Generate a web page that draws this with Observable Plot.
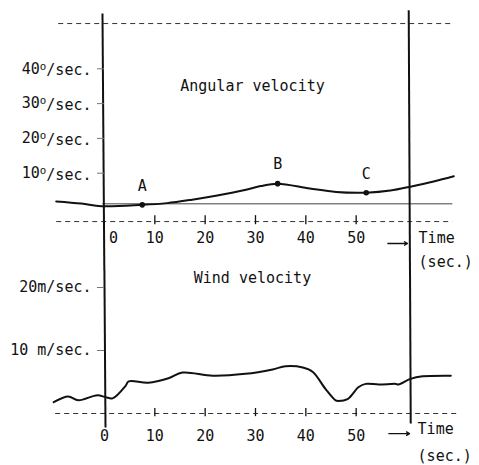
<!DOCTYPE html>
<html>
<head>
<meta charset="utf-8">
<script src="https://cdn.jsdelivr.net/npm/d3@7"></script>
<script src="https://cdn.jsdelivr.net/npm/@observablehq/plot@0.6"></script>
<style>
  html, body { margin: 0; padding: 0; background: #fff; }
  #chart svg { display: block; }
</style>
</head>
<body>
<div id="chart"></div>
<script>
// ---- data ----
const timeTicks = [0, 10, 20, 30, 40, 50];
const timeTickMarks = [10, 20, 30, 40, 50];

const angTicks = [10, 20, 30, 40];
const angTickLabels = ["10°/sec.", "20°/sec.", "30°/sec.", "40°/sec."];

const windTicks = [10, 20];
const windTickLabels = ["10 m/sec.", "20m/sec."];

// angular velocity (deg/sec) vs time (sec)
const angTime  = [-9.6, -4.6, -0.6, 7.5, 12.4, 17.4, 22.4, 27.4, 31, 34.4, 40.8, 46, 52, 56.8, 61, 65.4, 69.4];
const angValue = [1.9, 1.3, 0.5, 0.9, 1.4, 2.4, 3.6, 5.0, 6.3, 7.0, 5.6, 4.6, 4.4, 5.0, 6.2, 7.6, 9.1];

const pointNames = ["A", "B", "C"];
const pointTime  = [7.5, 34.4, 52];
const pointValue = [0.9, 7.0, 4.4];

// wind velocity (m/sec) vs time (sec)
const windTime  = [-10.1, -7.2, -5.2, -1.4, 0.2, 1.6, 4.2, 4.8, 8.7, 12.7, 15.5, 21.5, 28.0, 33.4, 36.0, 39.4, 41.4, 43.9, 45.9, 46.5, 48.3, 50.5, 51.9, 54.5, 57.9, 58.4, 60.8, 63.2, 68.8];
const windValue = [1.8, 2.7, 2.1, 2.9, 2.6, 2.4, 4.4, 5.1, 4.9, 5.6, 6.5, 6.0, 6.3, 7.0, 7.5, 7.3, 6.6, 3.9, 2.1, 2.0, 2.3, 4.2, 4.7, 4.6, 4.7, 4.6, 5.5, 5.9, 6.0];

(function () {
  // ---- tables ----
  const ang = angTime.map((t, i) => ({t, v: angValue[i]}));
  const pts = pointNames.map((n, i) => ({n, t: pointTime[i], v: pointValue[i]}));
  const wind = windTime.map((t, i) => ({t, v: windValue[i]}));
  const angAxis = angTicks.map((v, i) => ({v, label: angTickLabels[i]}));
  const windAxis = windTicks.map((v, i) => ({v, label: windTickLabels[i]}));

  const FONT = "DejaVu Sans Mono";
  const FS = 15;
  const INK = "#111";
  const DASH = "5,4";
  const xScale = {domain: [0, 60], range: [104, 406]};
  const lk = {x1: "x1", y1: "y1", x2: "x2", y2: "y2", stroke: INK, strokeWidth: 2};

  // ---- top panel: angular velocity ----
  const topPanel = Plot.plot({
    width: 479, height: 270,
    marginTop: 0, marginBottom: 0, marginLeft: 0, marginRight: 0,
    style: {fontFamily: FONT, fontSize: FS + "px", color: INK, background: "#fff"},
    x: {...xScale, axis: null},
    y: {domain: [0, 40], range: [207.5, 68.3], axis: null},
    marks: [
      Plot.ruleY([53.0], {x1: -9.1, x2: 69.2, stroke: "#333", strokeWidth: 1, strokeDasharray: DASH}),
      Plot.ruleY([-3.9], {x1: -9.5, x2: 69.2, stroke: "#333", strokeWidth: 1, strokeDasharray: DASH}),
      Plot.ruleX(timeTickMarks, {y1: -2.2, y2: -4.8, stroke: INK, strokeWidth: 1.3}),
      Plot.ruleY([1.2], {x1: -0.3, x2: 69.2, stroke: "#444", strokeWidth: 1}),
      Plot.link([{x1: -0.4, y1: 55.9, x2: -0.03, y2: -19}], lk),
      Plot.link([{x1: 60.44, y1: 56.8, x2: 60.69, y2: -19}], lk),
      Plot.ruleY(angAxis, {y: "v", x1: -1.4, x2: 0, stroke: "#777", strokeWidth: 1}),
      Plot.text(angAxis, {x: 0, y: "v", text: "label", textAnchor: "end", dx: -13, fill: INK, fontSize: FS}),
      Plot.line(ang, {x: "t", y: "v", curve: "catmull-rom", stroke: INK, strokeWidth: 2}),
      Plot.dot(pts, {x: "t", y: "v", r: 2.8, fill: INK, stroke: "none"}),
      Plot.text(pts, {x: "t", y: "v", text: "n", dy: -19, fill: INK, fontSize: FS}),
      Plot.text(timeTicks.filter(d => d !== 0), {x: d => d, y: -8.8, text: d => String(d), fill: INK, fontSize: FS}),
      Plot.text(timeTicks.filter(d => d === 0), {x: d => d, y: -8.8, text: d => String(d), dx: 9, fill: INK, fontSize: FS}),
      Plot.arrow([{x1: 56.3, x2: 60.2, y: -10.2}], {x1: "x1", x2: "x2", y1: "y", y2: "y", stroke: INK, strokeWidth: 1.3, headLength: 4}),
      Plot.text(["Time"], {x: 62.4, y: -8.8, text: d => d, textAnchor: "start", fill: INK, fontSize: FS}),
      Plot.text(["(sec.)"], {x: 62.4, y: -15.7, text: d => d, textAnchor: "start", fill: INK, fontSize: FS}),
      Plot.text(["Angular velocity"], {x: 29.4, y: 34.9, text: d => d, fill: INK, fontSize: FS})
    ]
  });

  // ---- bottom panel: wind velocity ----
  const bottomPanel = Plot.plot({
    width: 479, height: 195,
    marginTop: 0, marginBottom: 0, marginLeft: 0, marginRight: 0,
    style: {fontFamily: FONT, fontSize: FS + "px", color: INK, background: "#fff"},
    x: {...xScale, axis: null},
    y: {domain: [0, 20], range: [143, 17], axis: null},
    marks: [
      Plot.ruleY([0], {x1: -9.7, x2: 70.2, stroke: "#333", strokeWidth: 1, strokeDasharray: DASH}),
      Plot.ruleX(timeTickMarks, {y1: 0.8, y2: -0.5, stroke: INK, strokeWidth: 1.3}),
      Plot.link([{x1: -0.03, y1: 24, x2: 0.2, y2: -2.22}], lk),
      Plot.link([{x1: 60.69, y1: 24, x2: 60.84, y2: -1.6}], lk),
      Plot.ruleY(windAxis, {y: "v", x1: -1.4, x2: 0, stroke: "#777", strokeWidth: 1}),
      Plot.text(windAxis, {x: 0, y: "v", text: "label", textAnchor: "end", dx: -13, fill: INK, fontSize: FS}),
      Plot.line(wind, {x: "t", y: "v", curve: "catmull-rom", stroke: INK, strokeWidth: 2}),
      Plot.text(timeTicks, {x: d => d, y: -3.65, text: d => String(d), fill: INK, fontSize: FS}),
      Plot.arrow([{x1: 56.5, x2: 60.6, y: -3.2}], {x1: "x1", x2: "x2", y1: "y", y2: "y", stroke: INK, strokeWidth: 1.3, headLength: 4}),
      Plot.text(["Time"], {x: 62.2, y: -2.54, text: d => d, textAnchor: "start", fill: INK, fontSize: FS}),
      Plot.text(["(sec.)"], {x: 62.2, y: -6.83, text: d => d, textAnchor: "start", fill: INK, fontSize: FS}),
      Plot.text(["Wind velocity"], {x: 29.4, y: 21.4, text: d => d, fill: INK, fontSize: FS})
    ]
  });

  // typeset the degree sign as a raised small "o", like the original typewriter labels
  d3.select(topPanel).selectAll("text").each(function () {
    const s = this.textContent;
    const i = s.indexOf("°");
    if (i < 0) return;
    const el = d3.select(this);
    el.text(null);
    el.append("tspan").text(s.slice(0, i));
    el.append("tspan").attr("dy", "-0.38em").attr("font-size", "0.72em").text("°".replace("°", "o"));
    el.append("tspan").attr("dy", "0.38em").text(s.slice(i + 1));
  });

  const root = document.getElementById("chart");
  root.appendChild(topPanel);
  root.appendChild(bottomPanel);
})();
</script>
</body>
</html>
